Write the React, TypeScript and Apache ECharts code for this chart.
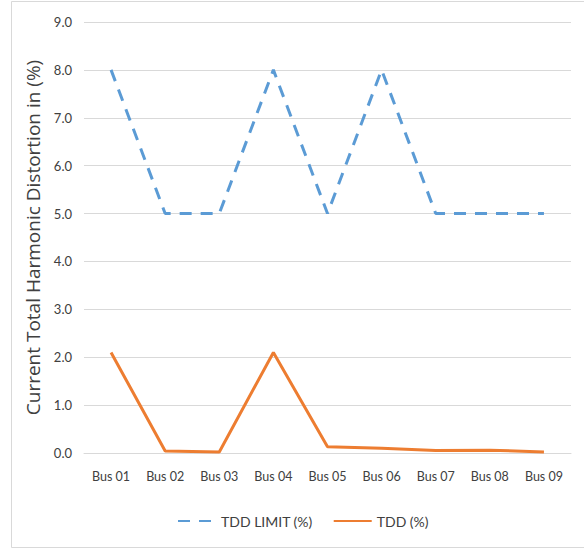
import React, { useEffect, useRef } from "react";
import * as echarts from "echarts";

const categories = ["Bus 01", "Bus 02", "Bus 03", "Bus 04", "Bus 05", "Bus 06", "Bus 07", "Bus 08", "Bus 09"];
const tddLimit = [8.0, 5.0, 5.0, 8.0, 5.0, 8.0, 5.0, 5.0, 5.0];
const tdd = [2.1, 0.04, 0.02, 2.1, 0.13, 0.1, 0.05, 0.06, 0.02];
const yTitle = "Current Total Harmonic Distortion in (%)";

export default function App() {
  const ref = useRef<HTMLDivElement>(null);
  useEffect(() => {
    if (!ref.current) return;
    const chart = echarts.init(ref.current, undefined, { renderer: "svg" });
    const font = "Lato, 'Open Sans', sans-serif";
    chart.setOption({
      animation: false,
      backgroundColor: "#ffffff",
      graphic: [
        {
          type: "rect",
          shape: { x: 11.5, y: 1.5, width: 580, height: 546 },
          style: { fill: "none", stroke: "#D9D9D9", lineWidth: 1 },
          silent: true,
        },
      ],
      grid: { left: 84, right: 13, top: 22, bottom: 97 },
      xAxis: {
        type: "category",
        data: categories,
        boundaryGap: true,
        axisLine: { show: true, lineStyle: { color: "#D9D9D9", width: 1 } },
        axisTick: { show: false },
        axisLabel: { color: "#404040", fontSize: 12.5, fontFamily: font, margin: 17 },
      },
      yAxis: {
        type: "value",
        min: 0,
        max: 9,
        interval: 1,
        name: yTitle,
        nameLocation: "middle",
        nameGap: 37,
        nameTextStyle: { color: "#404040", fontSize: 19, fontFamily: "'Open Sans', sans-serif" },
        axisLine: { show: false },
        axisTick: { show: false },
        splitLine: { lineStyle: { color: "#D9D9D9", width: 1 } },
        axisLabel: {
          color: "#404040",
          fontSize: 13,
          fontFamily: font,
          margin: 12,
          formatter: (v: number) => v.toFixed(1),
        },
      },
      legend: {
        bottom: 17,
        left: 172,
        itemWidth: 38,
        itemHeight: 14,
        itemGap: 20,
        itemStyle: { opacity: 0 },
        textStyle: { color: "#404040", fontSize: 14, fontFamily: font },
        data: ["TDD LIMIT (%)", "TDD (%)"],
      },
      series: [
        {
          name: "TDD LIMIT (%)",
          type: "line",
          data: tddLimit,
          symbol: "none",
          lineStyle: { color: "#5B9BD5", width: 3, type: [12, 9] },
          itemStyle: { color: "#5B9BD5" },
        },
        {
          name: "TDD (%)",
          type: "line",
          data: tdd,
          symbol: "none",
          lineStyle: { color: "#ED7D31", width: 3 },
          itemStyle: { color: "#ED7D31" },
        },
      ],
    });
    return () => chart.dispose();
  }, []);
  return (
    <div
      ref={ref}
      style={{ position: "absolute", left: 0, top: 0, width: 584, height: 550 }}
    />
  );
}
